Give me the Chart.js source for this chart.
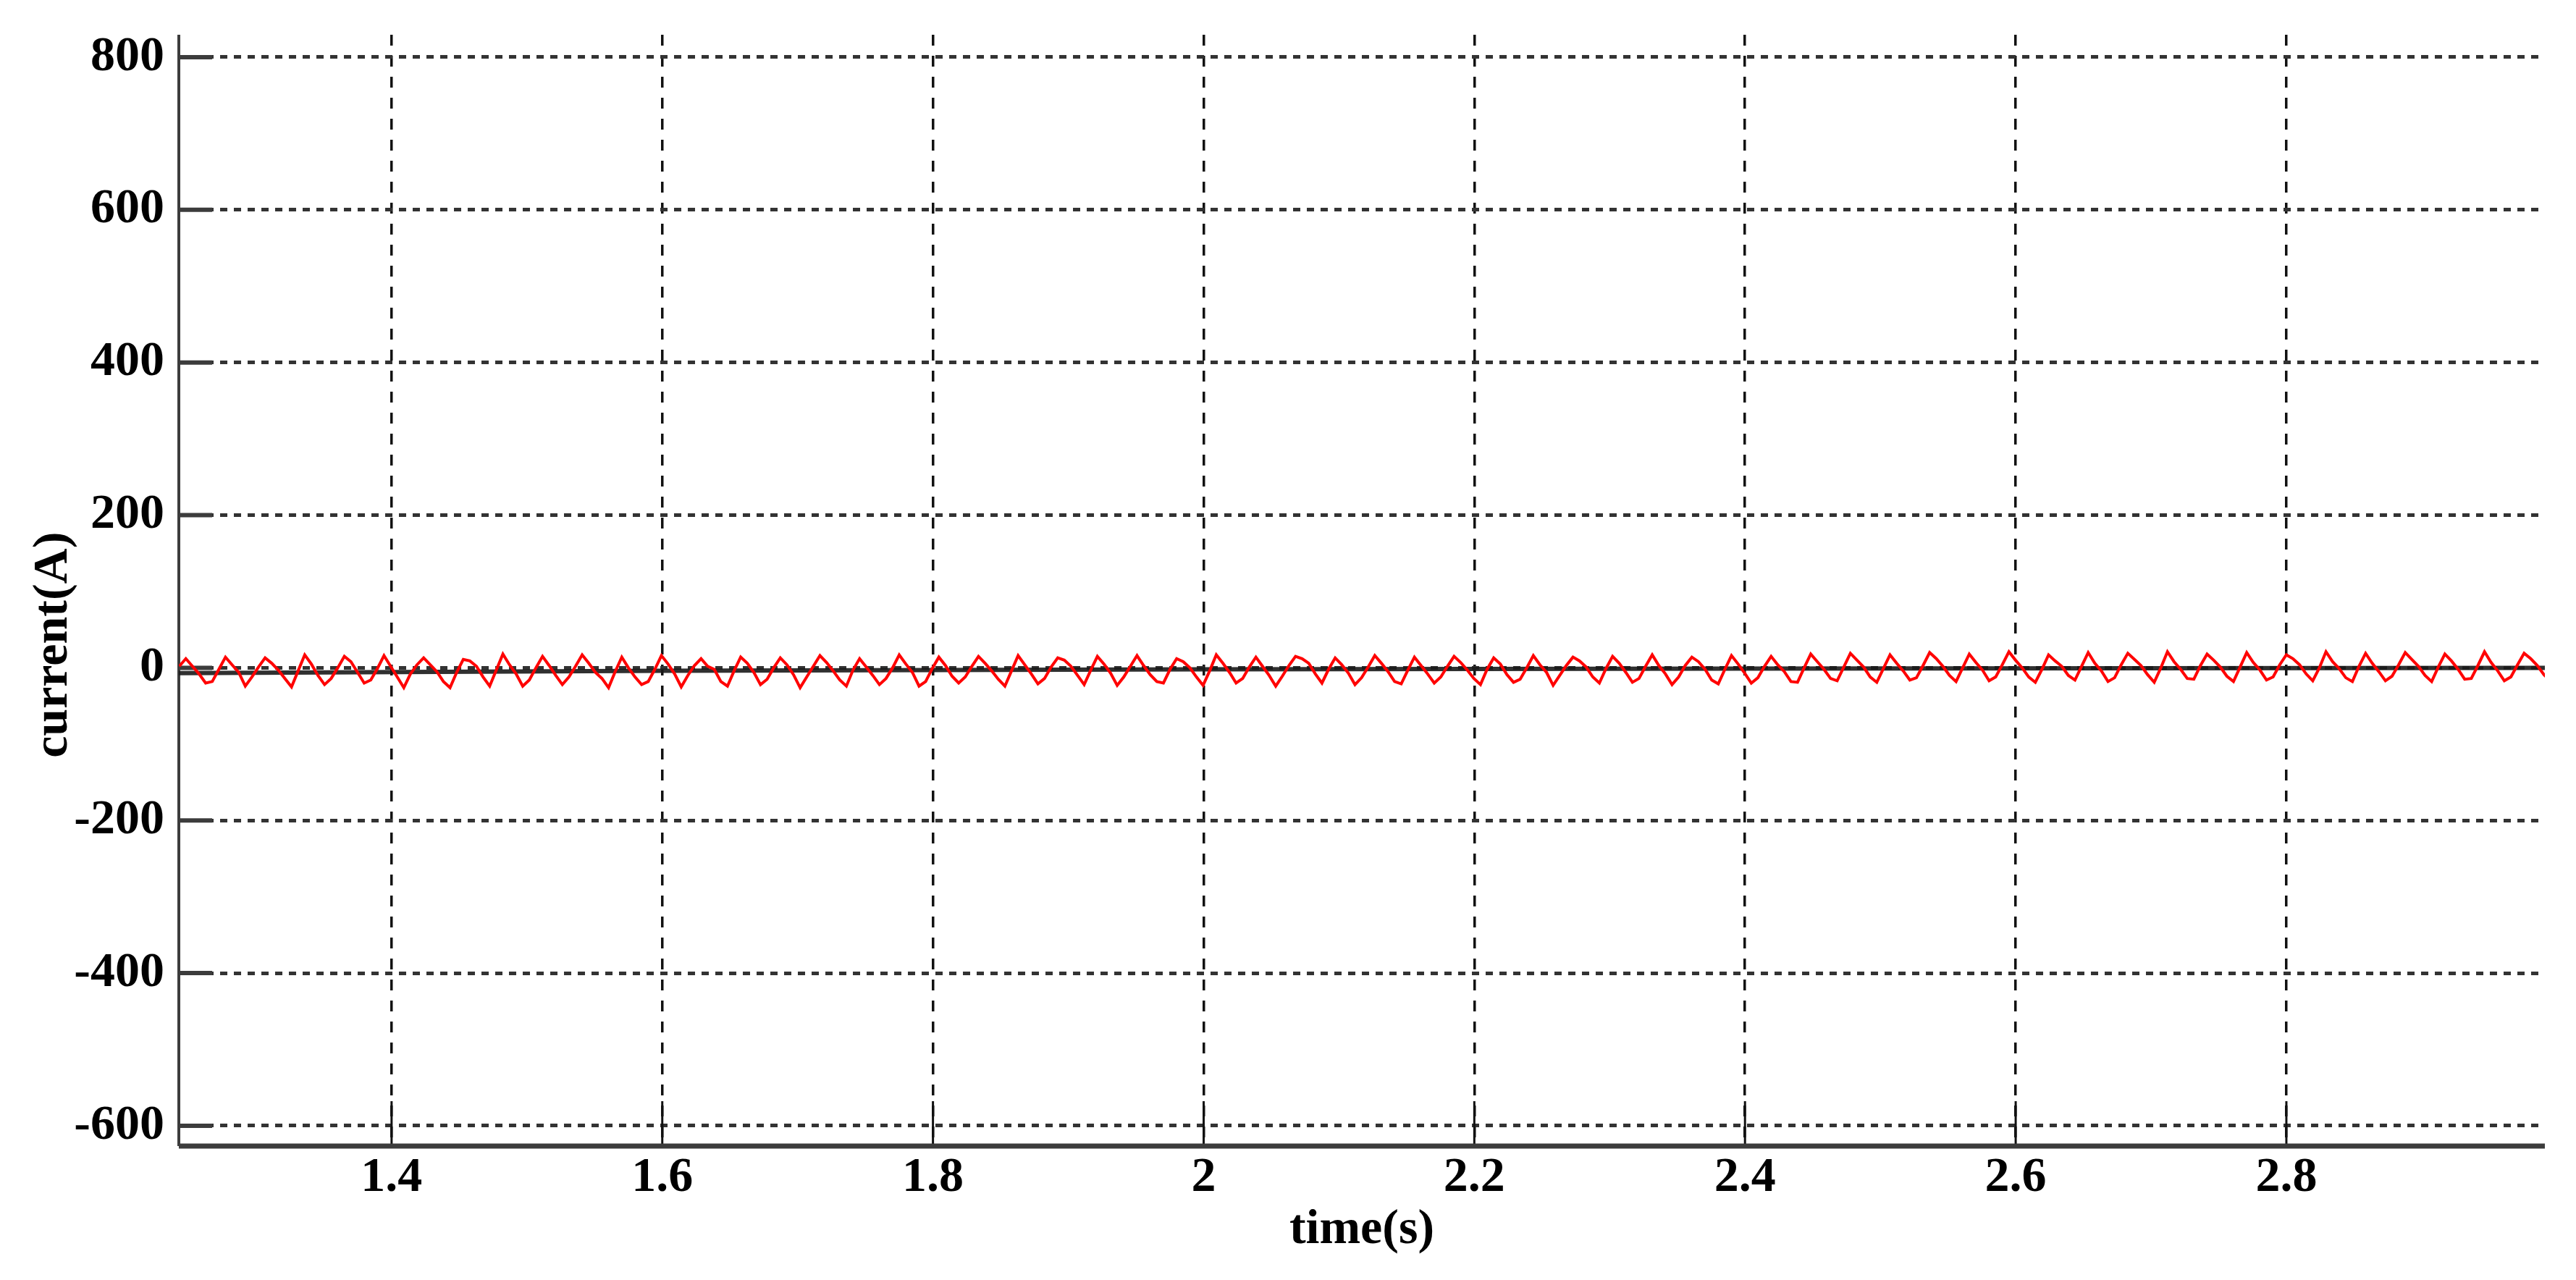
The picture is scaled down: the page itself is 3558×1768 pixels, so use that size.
<!DOCTYPE html>
<html>
<head>
<meta charset="utf-8">
<script src="https://cdn.jsdelivr.net/npm/chart.js@4.4.1/dist/chart.umd.min.js"></script>
<style>
  html, body { margin: 0; padding: 0; background: #fff; overflow: hidden; }
  #wrap { width: 3558px; height: 1768px; position: relative; }
</style>
</head>
<body>
<div id="wrap"><canvas id="chart"></canvas></div>
<script>
// axis ticks
const xTicks = [1.4, 1.6, 1.8, 2, 2.2, 2.4, 2.6, 2.8];
const yTicks = [800, 600, 400, 200, 0, -200, -400, -600];

// sampling of the measured current (s)
const sampleStart = 1.2431;
const sampleStep = 0.0048805;

const measuredCurrent = [
  2,
  12, 2, -8, -20, -18, -2,
  14, 4, -6, -24, -12, 1,
  13, 6, -3, -14, -25, -4,
  17, 5, -10, -22, -14, 0,
  15, 8, -6, -20, -16, -1,
  16, 2, -12, -26, -8, 4,
  13, 4, -5, -18, -26, -6,
  11, 9, 2, -12, -24, -3,
  18, 4, -8, -24, -16, 0,
  15, 3, -10, -22, -12, 2,
  17, 6, -6, -14, -26, -5,
  14, 0, -12, -22, -18, -2,
  16, 5, -8, -25, -10, 3,
  12, 2, -2, -18, -24, -4,
  14, 6, -6, -22, -15, 0,
  13, 4, -9, -26, -12, 2,
  16, 7, -4, -16, -24, -3,
  12, 1, -10, -22, -14, 0,
  17, 5, -6, -24, -18, -1,
  14, 3, -11, -20, -12, 2,
  15, 6, -4, -15, -24, -4,
  16, 4, -8, -21, -14, 1,
  13, 10, 2, -10, -22, -3,
  15, 5, -7, -23, -12, 2,
  16, 3, -9, -18, -20, -2,
  12, 8, 0, -12, -23, -4,
  17, 6, -6, -20, -14, 1,
  14, 2, -10, -24, -11, 3,
  15, 12, 6, -8, -20, -2,
  13, 4, -7, -22, -13, 1,
  16, 6, -5, -18, -21, -3,
  14, 3, -8, -20, -12, 2,
  15, 7, -3, -14, -22, -2,
  13, 5, -9, -19, -15, 0,
  16, 4, -6, -23, -10, 3,
  14, 9, 1, -12, -20, -1,
  15, 6, -6, -19, -14, 2,
  17, 3, -8, -22, -12, 3,
  14, 8, -2, -16, -21, -2,
  16, 5, -7, -20, -13, 2,
  15, 4, -5, -18, -19, 0,
  18, 8, -2, -14, -17, 1,
  19, 10, 1, -12, -19, -1,
  17, 6, -4, -16, -13, 3,
  20, 12, 2, -10, -18, 0,
  18, 7, -3, -17, -12, 4,
  21, 10, 0, -12, -19, -2,
  17, 9, 2, -10, -16, 2,
  20, 6, -4, -18, -13, 4,
  19, 11, 3, -9, -19, 0,
  21, 8, -2, -14, -15, 3,
  18, 10, 1, -11, -18, 1,
  20, 7, -3, -16, -12, 4,
  17, 12, 4, -8, -17, 0,
  21, 8, -1, -13, -18, 2,
  19, 6, -5, -17, -11, 4,
  20, 11, 2, -10, -18, 1,
  18, 9, -2, -15, -14, 3,
  21, 7, -4, -17, -12, 4,
  19, 12, 3, -9, -18, 0
];

// reference (black) trace
const refTimes = [1.2428, 1.6, 2.0, 2.4, 2.991];
const refCurrent = [-7, -4, -2, -1, 0];

const FONT = "'Liberation Serif', 'Times New Roman', serif";

const currentPoints = measuredCurrent.map((v, i) => ({ x: sampleStart + i * sampleStep, y: v }));
const refPoints = refTimes.map((t, i) => ({ x: t, y: refCurrent[i] }));

// inward ticks, axis lines and the y title
const framePlugin = {
  id: 'frame',
  beforeDatasetsDraw(chart) {
    const { ctx, chartArea: a, scales: { x, y } } = chart;
    const line = (x1, y1, x2, y2) => {
      ctx.beginPath(); ctx.moveTo(x1, y1); ctx.lineTo(x2, y2); ctx.stroke();
    };
    ctx.save();
    ctx.strokeStyle = '#3c3c3c';
    ctx.lineWidth = 6;
    yTicks.forEach(v => {
      const py = y.getPixelForValue(v);
      line(a.left, py, a.left + 46, py);
    });
    ctx.strokeStyle = '#111';
    ctx.lineWidth = 3;
    xTicks.forEach(v => {
      const px = x.getPixelForValue(v);
      line(px, a.bottom, px, a.bottom - 62);
    });
    ctx.strokeStyle = '#3c3c3c';
    ctx.lineWidth = 4;
    line(a.left, a.top, a.left, a.bottom);
    ctx.lineWidth = 7;
    line(a.left, a.bottom, a.right, a.bottom);
    ctx.restore();
  },
  afterDraw(chart) {
    const { ctx } = chart;
    const y = chart.scales.y;
    ctx.save();
    ctx.translate(92, y.getPixelForValue(30));
    ctx.rotate(-Math.PI / 2);
    ctx.font = 'bold 68px ' + FONT;
    ctx.fillStyle = '#000';
    ctx.textAlign = 'center';
    ctx.textBaseline = 'alphabetic';
    ctx.fillText('current(A)', 0, 0);
    ctx.restore();
  }
};

new Chart(document.getElementById('chart'), {
  type: 'line',
  data: {
    datasets: [{
      label: 'reference',
      data: refPoints,
      borderColor: 'rgba(25,25,25,0.9)',
      borderWidth: 6,
      pointRadius: 0,
      order: 2
    }, {
      label: 'current',
      data: currentPoints,
      borderColor: '#ff0000',
      borderWidth: 4,
      pointRadius: 0,
      tension: 0,
      order: 1
    }]
  },
  options: {
    responsive: true,
    maintainAspectRatio: false,
    devicePixelRatio: 1,
    animation: false,
    events: [],
    layout: { padding: { top: 48, right: 43, left: 0, bottom: 0 } },
    plugins: { legend: { display: false }, tooltip: { enabled: false } },
    scales: {
      x: {
        type: 'linear',
        min: 1.2428,
        max: 2.991,
        afterBuildTicks: (scale) => { scale.ticks = xTicks.map(v => ({ value: v })); },
        afterFit: (scale) => {
          scale.height = 185;
          scale.paddingLeft = 0; scale.paddingRight = 0;
        },
        grid: { color: '#111', lineWidth: 3.5, drawTicks: false },
        border: { display: false, dash: [15, 14] },
        ticks: {
          padding: 4,
          color: '#000',
          maxRotation: 0,
          font: { family: FONT, weight: 'bold', size: 68 },
          callback: (v) => String(v)
        },
        title: {
          display: true,
          text: 'time(s)',
          color: '#000',
          padding: { top: 0, bottom: 28 },
          font: { family: FONT, weight: 'bold', size: 68 }
        }
      },
      y: {
        min: -626.6,
        max: 829.4,
        afterBuildTicks: (scale) => { scale.ticks = yTicks.map(v => ({ value: v })); },
        afterFit: (scale) => {
          scale.width = 247;
          scale.paddingTop = 0; scale.paddingBottom = 0;
        },
        grid: { color: '#333', lineWidth: 5, drawTicks: false },
        border: { display: false, dash: [10, 9] },
        ticks: {
          padding: 20,
          color: '#000',
          font: { family: FONT, weight: 'bold', size: 68 },
          callback: (v) => String(v)
        }
      }
    }
  },
  plugins: [framePlugin]
});
</script>
</body>
</html>
